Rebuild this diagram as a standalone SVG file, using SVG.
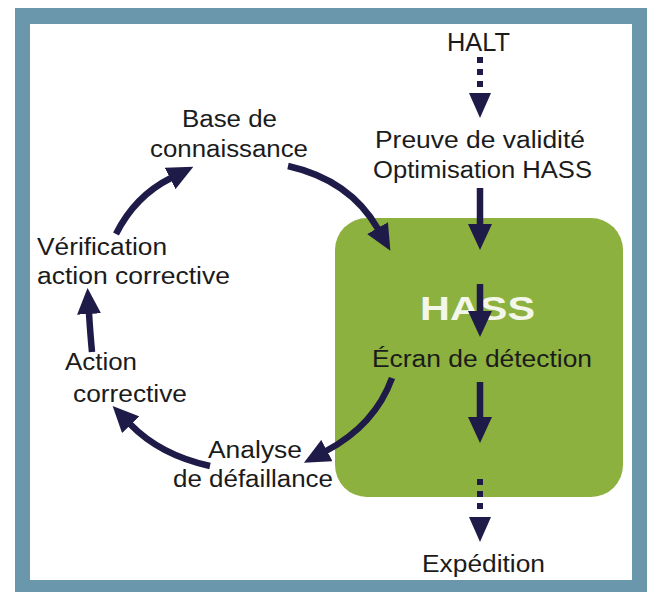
<svg xmlns="http://www.w3.org/2000/svg" width="649" height="592" viewBox="0 0 649 592">
<defs>
<style>
.t{font-family:"Liberation Sans",Arial,sans-serif;font-size:23.5px;fill:#1b1b1b}
.w{font-family:"Liberation Sans",Arial,sans-serif;font-size:33px;font-weight:bold;fill:#f3f6ea}
.c{fill:none;stroke:#1e1b48;stroke-width:6.5;marker-end:url(#ah)}
.d{fill:#1e1b48}
</style>
<marker id="ah" markerUnits="userSpaceOnUse" markerWidth="26" markerHeight="24" refX="1" refY="12" orient="auto" viewBox="0 0 26 24">
<path d="M0,0 L26,12 L0,24 z" fill="#1e1b48"/>
</marker>
</defs>
<g id="frame">
<rect x="15" y="8" width="632" height="584" fill="#6a97ab"/>
<rect x="30" y="24" width="602" height="556" fill="#ffffff"/>
</g>
<g id="hass">
<rect x="335" y="218" width="288" height="279" rx="32" fill="#8cb13e"/>
<text class="w" x="420" y="320" textLength="115" lengthAdjust="spacingAndGlyphs">HASS</text>
</g>
<g id="halt"><text class="t" x="447" y="51" style="font-size:25px" textLength="63" lengthAdjust="spacingAndGlyphs">HALT</text></g>
<g id="preuve">
<text class="t" x="375" y="148" textLength="210" lengthAdjust="spacingAndGlyphs">Preuve de validité</text>
<text class="t" x="373" y="178" textLength="219" lengthAdjust="spacingAndGlyphs">Optimisation HASS</text>
</g>
<g id="ecran"><text class="t" x="372" y="367" textLength="220" lengthAdjust="spacingAndGlyphs">Écran de détection</text></g>
<g id="expedition"><text class="t" x="422" y="572" textLength="123" lengthAdjust="spacingAndGlyphs">Expédition</text></g>
<g id="base">
<text class="t" x="182" y="127" textLength="95" lengthAdjust="spacingAndGlyphs">Base de</text>
<text class="t" x="150" y="157" textLength="158" lengthAdjust="spacingAndGlyphs">connaissance</text>
</g>
<g id="verification">
<text class="t" x="37" y="255" textLength="130" lengthAdjust="spacingAndGlyphs">Vérification</text>
<text class="t" x="37" y="284" textLength="193" lengthAdjust="spacingAndGlyphs">action corrective</text>
</g>
<g id="action">
<text class="t" x="65" y="370" textLength="72" lengthAdjust="spacingAndGlyphs">Action</text>
<text class="t" x="73" y="402" textLength="114" lengthAdjust="spacingAndGlyphs">corrective</text>
</g>
<g id="analyse">
<text class="t" x="208" y="458" textLength="94" lengthAdjust="spacingAndGlyphs">Analyse</text>
<text class="t" x="173" y="487" textLength="160" lengthAdjust="spacingAndGlyphs">de défaillance</text>
</g>
<g id="connectors">
<rect class="d" x="477" y="57" width="6" height="6"/>
<rect class="d" x="477" y="69" width="6" height="6"/>
<rect class="d" x="477" y="81" width="6" height="6"/>
<polygon class="d" points="469,93 491,93 480,118"/>
<path class="c" d="M480 188 L480 225"/>
<path class="c" d="M480 284 L480 312"/>
<path class="c" d="M480 382 L480 418"/>
<rect class="d" x="477" y="479" width="6" height="6"/>
<rect class="d" x="477" y="491" width="6" height="6"/>
<rect class="d" x="477" y="503" width="6" height="6"/>
<polygon class="d" points="469,517 491,517 480,542"/>
<path class="c" d="M116 234 Q135 196 171 178"/>
<path class="c" d="M288 166 Q350 180 378 229"/>
<path class="c" d="M392 378 Q375 425 326 451"/>
<path class="c" d="M210 466 Q160 455 130 424"/>
<path class="c" d="M92 352 Q90 330 89 313"/>
</g>
</svg>
